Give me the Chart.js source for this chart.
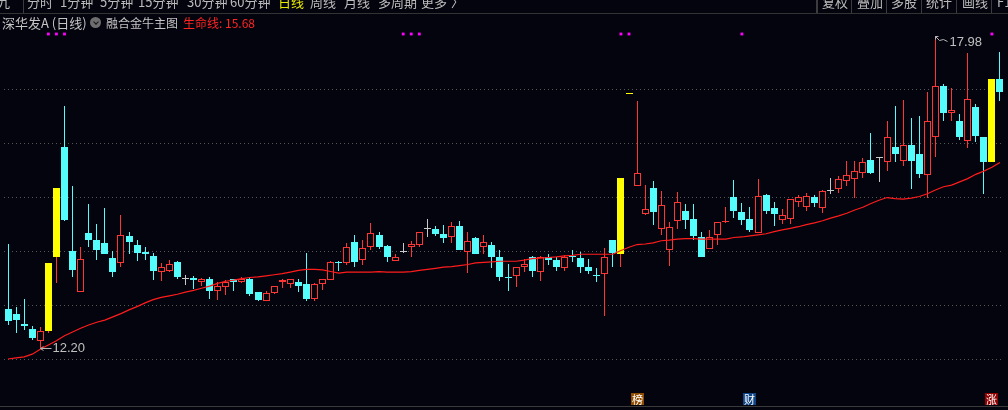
<!DOCTYPE html>
<html lang="zh">
<head>
<meta charset="UTF-8" />
<title>深华发A 日线</title>
<script src="https://cdn.jsdelivr.net/npm/chart.js"></script>
<style>
  body { margin: 0; background: #04040e; }
  .wrap { position: relative; width: 1008px; height: 410px; overflow: hidden; background: #04040e;
          font-family: "Noto Sans CJK SC", sans-serif; }
  canvas { position: absolute; left: 0; top: 0; }
  .tb { position: absolute; top: -5px; font-size: 13px; line-height: 13px; color: #bcbcbc; white-space: nowrap; }
  .sep { position: absolute; top: 0; width: 1px; height: 13px; background: #3c3c3c; }
  .hline { position: absolute; left: 0; width: 1008px; height: 1px; background: #333; }
  .tt { position: absolute; top: 16px; line-height: 13px; white-space: nowrap; color: #c4c4c4; }
  .ico { position: absolute; left: 90px; top: 17px; width: 11px; height: 11px; border-radius: 50%; background: #6e6e6e; }
  .ico::after { content: ""; position: absolute; left: 3.5px; top: 2.5px; width: 3px; height: 3px;
                border-right: 1.5px solid #15151a; border-bottom: 1.5px solid #15151a; transform: rotate(45deg); }
</style>
</head>
<body>
<div class="wrap">
  <canvas id="kChart" width="1008" height="410"></canvas>

  <span class="tb" style="left:-3px">九</span>
  <i class="sep" style="left:23px"></i>
  <span class="tb" style="left:27px">分时</span>
  <span class="tb" style="left:60px">1分钟</span>
  <span class="tb" style="left:100px">5分钟</span>
  <span class="tb" style="left:138px">15分钟</span>
  <span class="tb" style="left:187px">30分钟</span>
  <span class="tb" style="left:230px">60分钟</span>
  <span class="tb" style="left:278px;color:#e8e800">日线</span>
  <span class="tb" style="left:310px">周线</span>
  <span class="tb" style="left:344px">月线</span>
  <span class="tb" style="left:378px">多周期</span>
  <span class="tb" style="left:421px">更多</span>
  <span class="tb" style="left:451px">〉</span>

  <i class="sep" style="left:816px;width:2px"></i>
  <span class="tb" style="left:822px">复权</span>
  <i class="sep" style="left:851px"></i>
  <span class="tb" style="left:857px">叠加</span>
  <i class="sep" style="left:886px"></i>
  <span class="tb" style="left:891px">多股</span>
  <i class="sep" style="left:921px"></i>
  <span class="tb" style="left:926px">统计</span>
  <i class="sep" style="left:956px"></i>
  <span class="tb" style="left:962px">画线</span>
  <i class="sep" style="left:991px"></i>
  <span class="tb" style="left:997px">F10</span>
  <div class="hline" style="top:13px"></div>

  <span class="tt" style="left:2px;font-size:13px">深华发A (日线)</span>
  <span class="ico"></span>
  <span class="tt" style="left:106px;font-size:12px">融合金牛主图</span>
  <span class="tt" style="left:183px;font-size:12px;color:#ff2424">生命线: 15.68</span>

  <div class="hline" style="top:406px;background:#3a3a3a"></div>
</div>

<script>
// daily candles, oldest first
const opens = [12.93,12.83,12.64,12.56,12.34,12.51,13.88,15.93,14.00,13.25,
  14.33,14.20,14.14,13.87,13.78,14.28,14.11,13.98,13.91,13.61,
  13.63,13.79,13.48,13.50,13.43,13.49,13.26,13.34,13.48,13.43,
  13.49,13.24,13.08,13.23,13.43,13.39,13.43,13.39,13.12,13.38,
  13.47,13.80,13.77,14.17,13.84,14.07,14.30,14.09,13.81,13.98,
  14.08,14.12,14.40,14.40,14.31,14.26,14.46,13.99,14.24,14.07,
  14.11,13.89,13.52,13.54,13.71,13.89,13.62,13.89,13.83,13.69,
  13.90,13.87,13.70,13.56,13.58,14.20,13.94,16.91,15.21,14.69,
  15.17,14.41,14.01,14.55,14.74,14.59,14.26,14.04,14.29,14.54,
  15.00,14.72,14.59,14.34,15.04,14.80,14.58,14.60,14.91,14.82,
  15.00,14.79,15.12,15.14,15.29,15.33,15.44,15.69,15.72,15.64,
  15.92,15.67,15.96,15.79,15.40,16.11,17.06,16.55,16.41,16.03,
  16.66,16.11,15.64,17.18];
const highs = [14.13,12.97,13.11,12.61,12.59,13.78,15.17,16.69,15.20,14.07,
  14.87,14.50,14.80,14.00,14.67,14.35,14.21,14.07,13.96,13.78,
  13.83,13.81,13.56,13.54,13.50,13.51,13.43,13.46,13.49,13.51,
  13.51,13.24,13.26,13.36,13.48,13.49,13.48,13.96,13.41,13.49,
  13.81,13.82,14.15,14.30,14.20,14.52,14.36,14.12,13.94,14.15,
  14.18,14.35,14.59,14.46,14.48,14.53,14.56,14.35,14.26,14.30,
  14.16,14.02,13.76,13.70,13.86,13.91,13.91,13.94,13.89,13.92,
  14.02,13.98,13.85,13.69,14.05,14.20,15.35,16.91,16.78,15.22,
  15.29,15.12,14.54,15.09,14.87,14.87,14.35,14.39,14.54,14.81,
  15.31,14.89,14.81,15.33,15.06,14.91,14.77,14.96,15.04,15.07,
  15.04,15.13,15.35,15.39,15.67,15.67,15.72,16.19,15.75,16.41,
  16.69,16.80,16.46,16.50,16.94,17.98,17.09,17.01,16.54,17.66,
  16.72,16.11,17.18,17.69];
const lows = [12.63,12.48,12.54,12.35,12.20,12.48,13.41,14.56,13.51,13.25,
  14.08,13.83,13.94,13.52,13.71,13.94,13.82,13.83,13.46,13.44,
  13.61,13.49,13.37,13.30,13.36,13.11,13.09,13.19,13.26,13.40,
  13.17,13.08,13.08,13.20,13.31,13.32,13.25,13.08,13.08,13.28,
  13.46,13.63,13.74,13.71,13.75,14.01,14.04,13.80,13.81,13.96,
  13.88,14.08,14.26,14.27,14.15,14.15,14.01,13.59,13.94,13.94,
  13.69,13.45,13.26,13.34,13.61,13.52,13.45,13.75,13.63,13.63,
  13.80,13.60,13.57,13.43,12.80,13.70,13.70,16.91,15.21,14.67,
  14.48,14.30,13.73,14.41,14.41,14.21,13.88,14.04,14.12,14.52,
  14.62,14.49,14.35,14.34,14.69,14.47,14.50,14.50,14.82,14.75,
  14.82,14.70,15.05,15.07,15.21,14.99,15.35,15.42,15.28,15.49,
  15.64,15.58,15.15,15.36,14.98,15.74,16.41,16.41,16.06,15.91,
  16.02,15.06,15.64,16.78];
const closes = [12.71,12.72,12.61,12.38,12.52,13.78,15.17,14.57,13.65,13.86,
  14.20,14.02,13.94,13.61,14.30,14.17,13.96,13.94,13.63,13.70,
  13.76,13.52,13.48,13.47,13.48,13.26,13.35,13.43,13.43,13.49,
  13.20,13.10,13.22,13.36,13.47,13.48,13.36,13.12,13.39,13.49,
  13.79,13.78,14.07,13.80,14.05,14.33,14.08,13.88,13.88,13.98,
  14.13,14.35,14.40,14.31,14.25,14.46,14.01,14.18,13.95,14.16,
  13.89,13.52,13.50,13.70,13.76,13.63,13.88,13.83,13.71,13.89,
  13.88,13.71,13.63,13.54,13.89,13.97,15.35,16.91,15.44,14.77,
  14.72,14.85,14.44,14.90,14.58,14.28,13.88,14.26,14.54,14.56,
  14.75,14.57,14.39,15.02,14.75,14.69,14.67,14.96,15.00,15.01,
  14.88,15.11,15.12,15.33,15.40,15.48,15.65,15.45,15.72,16.11,
  15.80,15.96,15.67,15.43,16.41,17.05,16.56,16.61,16.11,16.81,
  16.13,15.64,17.18,16.95];
// 生命线
const lifeLine = [12.00,12.02,12.04,12.09,12.18,12.26,12.34,12.43,12.50,12.57,
  12.63,12.68,12.72,12.78,12.84,12.91,12.97,13.04,13.10,13.14,
  13.17,13.20,13.24,13.27,13.31,13.35,13.40,13.44,13.46,13.49,
  13.51,13.52,13.54,13.56,13.58,13.61,13.64,13.66,13.66,13.65,
  13.62,13.59,13.61,13.61,13.61,13.61,13.62,13.61,13.61,13.61,
  13.62,13.64,13.66,13.68,13.70,13.71,13.73,13.75,13.78,13.79,
  13.80,13.81,13.81,13.81,13.83,13.86,13.87,13.88,13.89,13.91,
  13.92,13.94,13.94,13.94,13.94,13.94,14.01,14.07,14.12,14.13,
  14.15,14.19,14.20,14.22,14.23,14.23,14.22,14.22,14.22,14.22,
  14.25,14.26,14.28,14.30,14.32,14.36,14.39,14.42,14.45,14.49,
  14.52,14.56,14.61,14.65,14.70,14.76,14.81,14.88,14.94,14.99,
  14.97,14.96,14.98,15.01,15.06,15.13,15.19,15.22,15.28,15.34,
  15.42,15.48,15.55,15.64];
const signalDays = [5, 6, 76, 77, 122];      // 金牛 yellow candles
const markDays = [5, 6, 7, 49, 50, 51, 76, 77, 91, 122];
const eventDays = [78, 92, 122];
const eventTags = ['榜', '财', '涨'];
const gridLevels = [12, 13, 14, 15, 16, 17];

const BG = '#04040e', UP = '#ff3434', DOWN = '#54fcfc', FLAT = '#c8c8c8', SIG = '#ffff00';
const tagColors = { '榜': '#8f4c00', '财': '#0f4584', '涨': '#900000' };

const labels = opens.map((_, i) => i);

function tone(i) {
  if (signalDays.includes(i)) return 'sig';
  if (closes[i] > opens[i]) return 'up';
  if (closes[i] < opens[i]) return 'down';
  return 'flat';
}
const bodyFill = { sig: SIG, up: BG, down: DOWN, flat: FLAT };
const bodyLine = { sig: SIG, up: UP, down: DOWN, flat: FLAT };
const wickLine = { sig: UP, up: UP, down: DOWN, flat: FLAT };

// put bodies and wicks on whole pixels so the 1px strokes stay sharp
const snap = {
  id: 'snap',
  beforeDatasetsDraw(chart) {
    chart.data.datasets.forEach((ds, di) => {
      if (ds.type === 'line') return;
      chart.getDatasetMeta(di).data.forEach(el => {
        el.x = Math.floor(el.x) + 0.5;
        let top = Math.round(Math.min(el.y, el.base));
        let bot = Math.round(Math.max(el.y, el.base));
        if (bot - top < 1 && ds.label === 'body') bot = top + 1;
        el.y = top;
        el.base = bot;
      });
    });
  }
};

// hi/lo labels and the bottom info tags
const decor = {
  id: 'decor',
  afterDatasetsDraw(chart) {
    const { ctx, chartArea, scales: { x, y } } = chart;
    let hi = 0, lo = 0;
    highs.forEach((v, i) => { if (v > highs[hi]) hi = i; });
    lows.forEach((v, i) => { if (v < lows[lo]) lo = i; });

    ctx.save();
    ctx.strokeStyle = '#b4b4b4';
    ctx.fillStyle = '#c0c0c0';
    ctx.lineWidth = 1;
    ctx.font = '13px "Liberation Sans", Arial, sans-serif';
    ctx.textBaseline = 'middle';

    let px = Math.floor(x.getPixelForValue(lo)) + 0.5;
    let py = Math.round(y.getPixelForValue(lows[lo])) + 0.5;
    ctx.beginPath();
    ctx.moveTo(px, py); ctx.lineTo(px + 11, py);
    ctx.moveTo(px + 3, py - 2); ctx.lineTo(px, py); ctx.lineTo(px + 3, py + 2);
    ctx.stroke();
    ctx.fillText(lows[lo].toFixed(2), px + 12, py);

    px = Math.floor(x.getPixelForValue(hi)) + 0.5;
    py = Math.round(y.getPixelForValue(highs[hi])) + 0.5;
    ctx.beginPath();
    ctx.moveTo(px + 3, py); ctx.lineTo(px, py); ctx.lineTo(px, py + 3);
    ctx.moveTo(px, py); ctx.lineTo(px + 4, py + 4);
    ctx.lineTo(px + 8, py + 3); ctx.lineTo(px + 12, py + 5);
    ctx.stroke();
    ctx.fillText(highs[hi].toFixed(2), px + 14, py + 6);

    ctx.font = '11px "Noto Sans CJK SC", sans-serif';
    ctx.textAlign = 'center';
    eventDays.forEach((d, k) => {
      const cx = Math.floor(x.getPixelForValue(d));
      const top = chartArea.bottom - 13;
      ctx.fillStyle = tagColors[eventTags[k]];
      ctx.fillRect(cx - 6, top, 13, 12);
      ctx.fillStyle = '#ffffff';
      ctx.fillText(eventTags[k], cx + 0.5, top + 6.5);
    });
    ctx.restore();
  }
};

new Chart(document.getElementById('kChart'), {
  type: 'bar',
  data: {
    labels: labels,
    datasets: [
      {
        type: 'line',
        label: '生命线',
        data: lifeLine,
        borderColor: '#ff1c1c',
        borderWidth: 1.2,
        pointRadius: 0,
        tension: 0,
        order: 0
      },
      {
        label: 'marks',
        type: 'line',
        data: labels.map(i => (markDays.includes(i) ? 1 : null)),
        yAxisID: 'yMark',
        showLine: false,
        pointStyle: 'rect',
        pointRadius: 2,
        pointBorderWidth: 0,
        pointBackgroundColor: '#ff00ff',
        clip: false,
        order: 0
      },
      {
        label: 'body',
        data: opens.map((o, i) => [Math.min(o, closes[i]), Math.max(o, closes[i])]),
        backgroundColor: c => bodyFill[tone(c.dataIndex)],
        borderColor: c => bodyLine[tone(c.dataIndex)],
        borderWidth: c => (tone(c.dataIndex) === 'up' ? 1 : 0),
        borderSkipped: false,
        inflateAmount: 0,
        barThickness: 7,
        minBarLength: 1,
        grouped: false,
        order: 1
      },
      {
        label: 'wick',
        data: lows.map((l, i) => [l, highs[i]]),
        backgroundColor: c => wickLine[tone(c.dataIndex)],
        borderWidth: 0,
        inflateAmount: 0,
        barThickness: 1,
        grouped: false,
        order: 2
      }
    ]
  },
  options: {
    responsive: false,
    animation: false,
    events: [],
    layout: { padding: { top: 34, bottom: 4, left: 0, right: 0 } },
    plugins: {
      legend: { display: false },
      tooltip: { enabled: false }
    },
    scales: {
      x: { type: 'category', display: false, offset: true },
      y: {
        min: 11.13,
        max: 18.0185,
        ticks: { display: false },
        grid: { color: '#555555', lineWidth: 1, drawTicks: false },
        border: { display: false, dash: [1, 3] },
        afterBuildTicks: s => { s.ticks = gridLevels.map(v => ({ value: v })); }
      },
      yMark: { display: false, min: 0, max: 1 }
    }
  },
  plugins: [snap, decor]
});
</script>
</body>
</html>
